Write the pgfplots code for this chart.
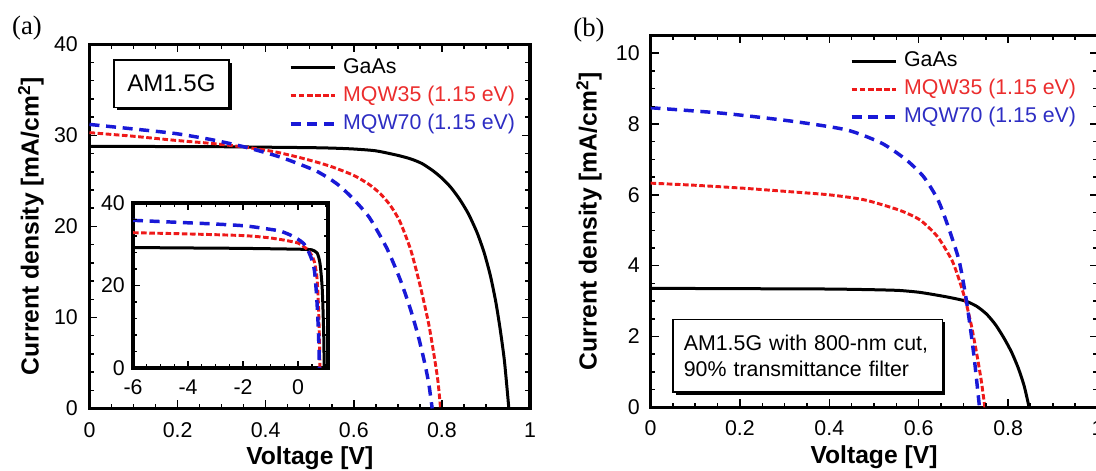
\documentclass[border=0pt]{standalone}
\usepackage{pgfplots}
\pgfplotsset{compat=1.18}
\usepackage{fontspec}
\setmainfont{Liberation Sans}
\newfontfamily\seriffont{Liberation Serif}
\usetikzlibrary{shadows}

\definecolor{cred}{RGB}{238,25,25}
\definecolor{cblue}{RGB}{25,25,215}
\definecolor{tred}{RGB}{235,45,45}
\definecolor{tblue}{RGB}{45,45,195}

\tikzset{boxed/.style={draw, line width=1.1pt, fill=white,
    drop shadow={shadow xshift=2.2pt, shadow yshift=-2.2pt, opacity=1, fill=black}},
  tk/.style={black, line width=1.1pt}}

\pgfplotsset{
  myaxis/.style={
    scale only axis,
    axis line style={line width=2.4pt},
    tick align=inside,
    major tick length=6pt, minor tick length=3.5pt,
    tick style={black, line width=1.1pt},
    /pgf/number format/assume math mode=true,
    tick label style={font=\fontsize{16}{19}\selectfont},
    label style={font=\fontsize{18.5}{22}\selectfont\bfseries},
    legend cell align=left,
    legend image code/.code={\draw[##1] (0pt,0pt) -- (33pt,0pt);},
  },
  gaas/.style={black, line width=2.25pt, smooth, tension=0.4},
  mqwa/.style={cred, line width=2.2pt, dash pattern=on 4.2pt off 1.9pt, smooth, tension=0.4},
  mqwb/.style={cblue, line width=2.6pt, dash pattern=on 7.5pt off 5pt, smooth, tension=0.4},
  leg/.style={draw=none, fill=none, inner sep=0pt, outer sep=0pt, row sep=5pt, column sep=5pt,
    nodes={inner sep=0pt, text height=12pt, text depth=4pt, font=\fontsize{16}{19}\selectfont}},
}

\begin{document}
\begin{tikzpicture}
\useasboundingbox (0,0) rectangle (822pt,353.25pt);

% ---------------- panel (a) ----------------
\begin{axis}[myaxis,
  at={(67.125pt,46.875pt)}, anchor=south west,
  width=330.375pt, height=273.15pt,
  xmin=0, xmax=1, ymin=0, ymax=40,
  xtick={0,0.2,0.4,0.6,0.8,1}, minor x tick num=3,
  ytick={0,10,20,30,40}, minor y tick num=4,
  xticklabel style={anchor=center, yshift=-16pt},
  yticklabel style={anchor=east, inner sep=0pt, xshift=-8.6pt},
  xlabel={Voltage [V]}, ylabel={Current density [mA/cm\textsuperscript{2}]},
  xlabel style={at={(axis description cs:0.5,-0.136)}, anchor=center},
  ylabel style={at={(axis description cs:-0.133,0.5)}, anchor=center},
  legend style={leg, at={(axis description cs:0.4529,0.9644)}, anchor=north west},
]
\addplot[gaas] coordinates {
(0,28.8) (0.1,28.8) (0.2,28.75) (0.3,28.75) (0.4,28.7) (0.5,28.65) (0.55,28.6)
(0.6,28.5) (0.65,28.3) (0.7,27.8) (0.73,27.4) (0.755,26.9) (0.78,26.1)
(0.8,25.3) (0.82,24.3) (0.84,23.0) (0.86,21.4) (0.88,19.3) (0.896,17.1) (0.91,14.6)
(0.922,11.8) (0.932,8.8) (0.942,5.2) (0.952,0)};
\addlegendentry{GaAs}
\addplot[mqwa] coordinates {
(0,30.3) (0.05,30.1) (0.1,29.9) (0.195,29.45) (0.28,29.1) (0.354,28.7) (0.42,28.2)
(0.474,27.6) (0.52,27.0) (0.553,26.5) (0.6,25.6) (0.635,24.6) (0.66,23.6) (0.683,22.3)
(0.705,20.5) (0.73,17.3) (0.752,13.2) (0.77,9.3) (0.783,5.6) (0.791,3.0) (0.797,0)};
\addlegendentry{\textcolor{tred}{MQW35 (1.15 eV)}}
\addplot[mqwb] coordinates {
(0,31.2) (0.1,30.7) (0.195,30.2) (0.28,29.5) (0.354,28.7) (0.434,27.6) (0.514,26.1)
(0.561,24.7) (0.595,23.2) (0.635,21.0) (0.675,17.6) (0.705,14.2) (0.728,11.0)
(0.746,8.0) (0.76,5.2) (0.77,2.8) (0.778,0)};
\addlegendentry{\textcolor{tblue}{MQW70 (1.15 eV)}}
\pgfplotsinvokeforeach{0.05,0.1,...,0.96}{\draw[tk] (axis cs:#1,0) -- ++(0pt,3.5pt) (axis cs:#1,40) -- ++(0pt,-3.5pt);}
\pgfplotsinvokeforeach{0.2,0.4,0.6,0.8}{\draw[tk] (axis cs:#1,0) -- ++(0pt,6pt) (axis cs:#1,40) -- ++(0pt,-6pt);}
\pgfplotsinvokeforeach{2,4,...,39}{\draw[tk] (axis cs:0,#1) -- ++(3.5pt,0pt) (axis cs:1,#1) -- ++(-3.5pt,0pt);}
\pgfplotsinvokeforeach{10,20,30}{\draw[tk] (axis cs:0,#1) -- ++(6pt,0pt) (axis cs:1,#1) -- ++(-6pt,0pt);}
\node[boxed, minimum width=86pt, minimum height=35.5pt,
  font=\fontsize{18}{21}\selectfont] at (rel axis cs:0.186,0.892) {AM1.5G};
\end{axis}

% ---------------- inset ----------------
\begin{axis}[myaxis,
  at={(99.75pt,77.25pt)}, anchor=south west,
  width=146.25pt, height=123.75pt,
  xmin=-6, xmax=1.09, ymin=0, ymax=40,
  major tick length=5pt, minor tick length=3pt,
  axis background/.style={fill=white},
  xtick={-6,-4,-2,0}, xticklabels={-6,-4,-2,0}, minor x tick num=3,
  ytick={0,20,40}, minor y tick num=4,
  xticklabel style={anchor=center, yshift=-14.25pt},
  yticklabel style={anchor=east, inner sep=0pt, xshift=-6pt},
]
\addplot[gaas] coordinates {
(-6,29.2) (-4,29.1) (-2,29.0) (0,28.8) (0.5,28.65) (0.7,27.8) (0.8,25.3) (0.88,19.3)
(0.932,8.8) (0.952,0)};
\addplot[mqwa] coordinates {
(-6,32.8) (-4,32.5) (-2,32.1) (-1.1,31.6) (-0.5,31.0) (0,30.3) (0.2,29.45) (0.35,28.7)
(0.5,27.3) (0.6,25.6) (0.683,22.3) (0.73,17.3) (0.77,9.3) (0.797,0)};
\addplot[mqwb] coordinates {
(-6,35.8) (-5,35.5) (-4,35.2) (-3,34.9) (-2,34.5) (-1.5,34.1) (-1,33.6) (-0.65,33.2)
(-0.3,32.3) (0,31.2) (0.2,30.2) (0.35,28.7) (0.5,26.3) (0.6,23.5) (0.675,17.6)
(0.728,11.0) (0.76,5.2) (0.778,0)};
\pgfplotsinvokeforeach{-5.5,-5,...,1}{\draw[tk] (axis cs:#1,0) -- ++(0pt,3pt) (axis cs:#1,40) -- ++(0pt,-3pt);}
\pgfplotsinvokeforeach{-4,-2,0}{\draw[tk] (axis cs:#1,0) -- ++(0pt,5pt) (axis cs:#1,40) -- ++(0pt,-5pt);}
\pgfplotsinvokeforeach{4,8,...,37}{\draw[tk] (axis cs:-6,#1) -- ++(3pt,0pt) (axis cs:1.09,#1) -- ++(-3pt,0pt);}
\pgfplotsinvokeforeach{20}{\draw[tk] (axis cs:-6,#1) -- ++(5pt,0pt) (axis cs:1.09,#1) -- ++(-5pt,0pt);}
\end{axis}

% ---------------- panel (b) ----------------
\begin{axis}[myaxis,
  at={(487.875pt,47.775pt)}, anchor=south west,
  width=335.25pt, height=278.85pt,
  xmin=0, xmax=1, ymin=0, ymax=10.5,
  xtick={0,0.2,0.4,0.6,0.8,1}, minor x tick num=3,
  ytick={0,2,4,6,8,10}, minor y tick num=3,
  xticklabel style={anchor=center, yshift=-16pt},
  yticklabel style={anchor=east, inner sep=0pt, xshift=-7.9pt},
  xlabel={Voltage [V]}, ylabel={Current density [mA/cm\textsuperscript{2}]},
  xlabel style={at={(axis description cs:0.5,-0.134)}, anchor=center},
  ylabel style={at={(axis description cs:-0.1376,0.5)}, anchor=center},
  legend style={leg, at={(axis description cs:0.4463,0.960)}, anchor=north west},
]
\addplot[gaas] coordinates {
(0,3.36) (0.2,3.35) (0.4,3.34) (0.5,3.32) (0.556,3.3) (0.6,3.25) (0.635,3.18)
(0.67,3.1) (0.705,3.0) (0.73,2.85) (0.752,2.63) (0.772,2.33) (0.791,1.95) (0.808,1.55)
(0.823,1.1) (0.836,0.6) (0.847,0)};
\addlegendentry{GaAs}
\addplot[mqwa] coordinates {
(0,6.33) (0.1,6.27) (0.204,6.19) (0.3,6.1) (0.4,6.0) (0.478,5.86) (0.556,5.57)
(0.603,5.29) (0.642,4.82) (0.674,4.16) (0.69,3.62) (0.705,3.0) (0.718,2.3) (0.73,1.5)
(0.74,0.75) (0.748,0)};
\addlegendentry{\textcolor{tred}{MQW35 (1.15 eV)}}
\addplot[mqwb] coordinates {
(0,8.46) (0.165,8.3) (0.322,8.07) (0.44,7.83) (0.517,7.46) (0.572,6.99) (0.611,6.51)
(0.643,5.86) (0.666,5.1) (0.69,4.16) (0.705,3.15) (0.716,2.2) (0.725,1.3) (0.736,0)};
\addlegendentry{\textcolor{tblue}{MQW70 (1.15 eV)}}
\pgfplotsinvokeforeach{0.05,0.1,...,0.96}{\draw[tk] (axis cs:#1,0) -- ++(0pt,3.5pt) (axis cs:#1,10.5) -- ++(0pt,-3.5pt);}
\pgfplotsinvokeforeach{0.2,0.4,0.6,0.8}{\draw[tk] (axis cs:#1,0) -- ++(0pt,6pt) (axis cs:#1,10.5) -- ++(0pt,-6pt);}
\pgfplotsinvokeforeach{0.5,1,...,10.1}{\draw[tk] (axis cs:0,#1) -- ++(3.5pt,0pt) (axis cs:1,#1) -- ++(-3.5pt,0pt);}
\pgfplotsinvokeforeach{2,4,6,8,10}{\draw[tk] (axis cs:0,#1) -- ++(6pt,0pt) (axis cs:1,#1) -- ++(-6pt,0pt);}
\node[boxed, minimum width=202pt, minimum height=54.5pt,
  align=left, text width=186pt, inner xsep=8pt,
  font=\fontsize{16}{19.5}\selectfont] at (rel axis cs:0.352,0.139)
  {AM1.5G with 800-nm cut,\\90\% transmittance filter};
\end{axis}

\node[font=\seriffont\fontsize{20}{24}\selectfont] at (20.25pt,332.25pt) {(a)};
\node[font=\seriffont\fontsize{20}{24}\selectfont] at (441.75pt,330.75pt) {(b)};
\end{tikzpicture}
\end{document}
